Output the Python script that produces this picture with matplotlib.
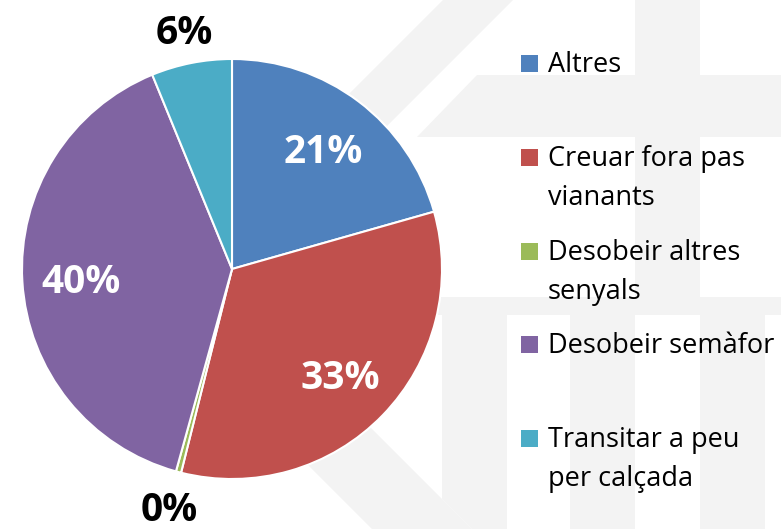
import matplotlib
matplotlib.use("Agg")
import numpy as np
import matplotlib.pyplot as plt
from matplotlib.patches import Polygon, Rectangle

# dades
categories = ["Altres", "Creuar fora pas\nvianants", "Desobeir altres\nsenyals",
              "Desobeir semàfor", "Transitar a peu\nper calçada"]
valors = [20.6, 33.3, 0.4, 39.5, 6.2]
etiquetes = ["21%", "33%", "0%", "40%", "6%"]
colors = ["#4F81BD", "#C0504D", "#9BBB59", "#8064A2", "#4BACC6"]

W, H = 781, 529
plt.rcParams['font.family'] = ['Open Sans', 'DejaVu Sans']

fig = plt.figure(figsize=(W / 100, H / 100), dpi=100)


def px(x, y):
    return (x / W, 1 - y / H)


# marca d'aigua de fons
gris = "#f3f3f3"
formes = [
    [(443, 0), (513, 0), (228, 285), (472, 529), (372, 529), (143, 300)],
    [(477, 75), (781, 75), (781, 137), (417, 137)],
    [(635, 0), (700, 0), (700, 297), (635, 297)],
    [(420, 297), (781, 297), (781, 315), (420, 315)],
    [(442, 297), (507, 297), (507, 529), (472, 529), (442, 499)],
    [(570, 315), (635, 315), (635, 529), (570, 529)],
    [(700, 315), (765, 315), (765, 529), (700, 529)],
]
for f in formes:
    fig.patches.append(Polygon([px(x, y) for x, y in f], closed=True,
                               facecolor=gris, edgecolor="none",
                               transform=fig.transFigure, zorder=-5))

# pastís
cx, cy, r = 232, 269, 210
ax = fig.add_axes([(cx - r) / W, (H - cy - r) / H, 2 * r / W, 2 * r / H])
ax.set_zorder(2)
wedges, _ = ax.pie(valors, colors=colors, startangle=90, counterclock=False,
                   radius=1, wedgeprops=dict(edgecolor="white", linewidth=1.5))
ax.set_xlim(-1, 1)
ax.set_ylim(-1, 1)
ax.axis('off')

for w, lab, val in zip(wedges, etiquetes, valors):
    ang = np.deg2rad((w.theta1 + w.theta2) / 2)
    if val > 10:
        d, col = 0.72, "white"
    else:
        d, col = 1.165, "black"
    ax.text(d * np.cos(ang), d * np.sin(ang), lab, ha="center",
            va="center_baseline", fontsize=28, fontweight="bold", color=col,
            clip_on=False)

# llegenda
y0 = [63, 157, 251, 344, 438]
for cat, col, y in zip(categories, colors, y0):
    fig.patches.append(Rectangle(px(521, y + 8.5), 17 / W, 17 / H,
                                 facecolor=col, edgecolor="none",
                                 transform=fig.transFigure, zorder=2))
    for i, linia in enumerate(cat.split("\n")):
        x, yy = px(548, y + 9 + 39 * i)
        fig.text(x, yy, linia, ha="left", va="baseline", fontsize=19.5,
                 color="black", transform=fig.transFigure)

fig.savefig("out.png", dpi=100)
